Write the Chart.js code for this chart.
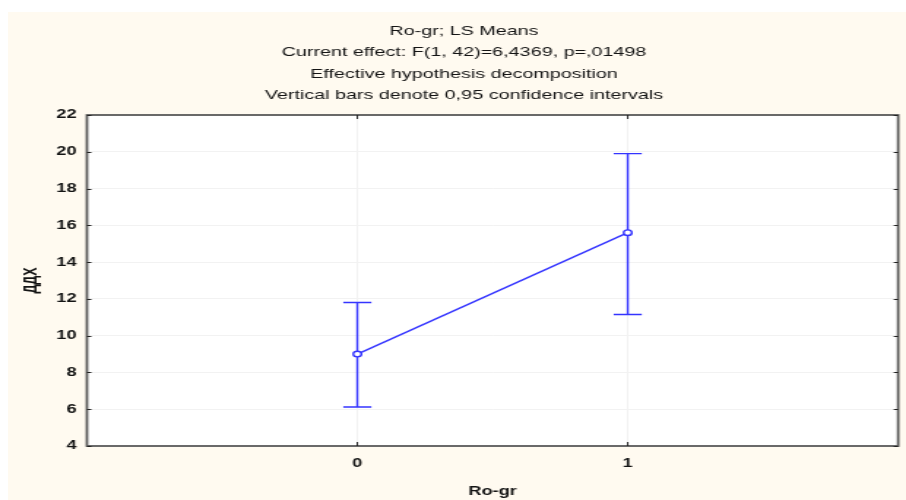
<!DOCTYPE html>
<html lang="ru">
<head>
    <meta charset="UTF-8">
    <title>Ro-gr; LS Means</title>
    <style>
        body {
            margin: 0;
            background: #ffffff;
            width: 906px;
            height: 500px;
            overflow: hidden;
            position: relative;
        }

        .panel {
            position: absolute;
            left: 8px;
            top: 12px;
            right: 0;
            bottom: 0;
            background: #fffaf0;
        }

        /* the chart is drawn narrow and stretched sideways to the page width */
        .chartBox {
            position: absolute;
            left: 0;
            top: 0;
            width: 620px;
            height: 500px;
            transform: scaleX(1.4613);
            transform-origin: 0 0;
        }
    </style>
    <script src="https://cdn.jsdelivr.net/npm/chart.js"></script>
</head>
<body>
    <div class="panel"></div>
    <div class="chartBox">
        <canvas id="meansChart" width="620" height="500"></canvas>
    </div>
    <script>
        // LS means of ДДХ by group, with 0.95 confidence limits
        const groups = [0, 1];
        const means = [9.0, 15.6];
        const ciLow = [6.12, 11.15];
        const ciHigh = [11.8, 19.9];
        const yTicks = [4, 6, 8, 10, 12, 14, 16, 18, 20, 22];

        const titleLines = [
            'Ro-gr; LS Means',
            'Current effect: F(1, 42)=6,4369, p=,01498',
            'Effective hypothesis decomposition',
            'Vertical bars denote 0,95 confidence intervals'
        ];

        const lineColor = 'rgb(52, 52, 255)';
        const textColor = '#141414';
        const fontFamily = 'Arial, "Liberation Sans", sans-serif';
        const axisFont = { family: fontFamily, size: 12.5, weight: 'bold' };

        // white plot area, then the frame with inward tick marks on all sides
        const plotFrame = {
            id: 'plotFrame',
            beforeDraw(chart) {
                const { ctx, chartArea: a } = chart;
                ctx.save();
                ctx.fillStyle = '#ffffff';
                ctx.fillRect(a.left, a.top, a.right - a.left, a.bottom - a.top);
                ctx.restore();
            },
            afterDraw(chart) {
                const { ctx, chartArea: a, scales } = chart;
                const lenY = 3;
                const lenX = 4;
                ctx.save();
                ctx.strokeStyle = '#5a5a5a';
                ctx.lineWidth = 1.8;
                ctx.strokeRect(a.left, a.top, a.right - a.left, a.bottom - a.top);

                ctx.strokeStyle = '#222222';
                ctx.lineWidth = 1;
                ctx.beginPath();
                scales.y.ticks.forEach(t => {
                    const y = Math.round(scales.y.getPixelForValue(t.value)) + 0.5;
                    ctx.moveTo(a.left, y);
                    ctx.lineTo(a.left + lenY, y);
                    ctx.moveTo(a.right, y);
                    ctx.lineTo(a.right - lenY, y);
                });
                scales.x.ticks.forEach(t => {
                    const x = scales.x.getPixelForValue(t.value);
                    ctx.moveTo(x, a.bottom);
                    ctx.lineTo(x, a.bottom - lenX);
                    ctx.moveTo(x, a.top);
                    ctx.lineTo(x, a.top + lenX);
                });
                ctx.stroke();
                ctx.restore();
            }
        };

        // vertical confidence bars with caps
        const errorBars = {
            id: 'errorBars',
            beforeDatasetsDraw(chart) {
                const { ctx, scales } = chart;
                const cap = 9.6;
                ctx.save();
                ctx.strokeStyle = lineColor;
                ctx.lineWidth = 1.4;
                ctx.beginPath();
                groups.forEach((g, i) => {
                    const x = scales.x.getPixelForValue(g);
                    const yTop = scales.y.getPixelForValue(ciHigh[i]);
                    const yBot = scales.y.getPixelForValue(ciLow[i]);
                    ctx.moveTo(x, yTop);
                    ctx.lineTo(x, yBot);
                    ctx.moveTo(x - cap, yTop);
                    ctx.lineTo(x + cap, yTop);
                    ctx.moveTo(x - cap, yBot);
                    ctx.lineTo(x + cap, yBot);
                });
                ctx.stroke();
                ctx.restore();
            }
        };

        const ctx = document.getElementById('meansChart').getContext('2d');

        new Chart(ctx, {
            type: 'line',
            data: {
                datasets: [{
                    data: groups.map((g, i) => ({ x: g, y: means[i] })),
                    borderColor: lineColor,
                    borderWidth: 1.4,
                    pointRadius: 2.8,
                    pointBorderWidth: 1.4,
                    pointBackgroundColor: '#ffffff',
                    pointBorderColor: lineColor,
                    fill: false,
                    tension: 0
                }]
            },
            options: {
                responsive: false,
                animation: false,
                devicePixelRatio: 1,
                layout: {
                    padding: { left: 20, right: 5, top: 0, bottom: 0 }
                },
                scales: {
                    x: {
                        type: 'linear',
                        min: -1,
                        max: 2,
                        afterBuildTicks: scale => {
                            scale.ticks = groups.map(v => ({ value: v }));
                        },
                        afterFit: scale => {
                            scale.height = 54;
                        },
                        grid: {
                            color: '#f2f2f2',
                            drawTicks: false
                        },
                        border: { display: false },
                        ticks: {
                            padding: 10,
                            color: textColor,
                            font: axisFont
                        },
                        title: {
                            display: true,
                            text: 'Ro-gr',
                            color: textColor,
                            padding: { top: 0, bottom: 1 },
                            font: axisFont
                        }
                    },
                    y: {
                        min: 4,
                        max: 22,
                        afterBuildTicks: scale => {
                            scale.ticks = yTicks.map(v => ({ value: v }));
                        },
                        afterFit: scale => {
                            scale.width = 39.5;
                        },
                        grid: {
                            color: '#f2f2f2',
                            drawTicks: false
                        },
                        border: { display: false },
                        ticks: {
                            padding: 7,
                            color: textColor,
                            font: axisFont
                        },
                        title: {
                            display: true,
                            text: 'ДДХ',
                            color: textColor,
                            padding: { top: -5.5, bottom: 0 },
                            font: axisFont
                        }
                    }
                },
                plugins: {
                    legend: { display: false },
                    tooltip: { enabled: false },
                    title: {
                        display: true,
                        text: titleLines,
                        color: textColor,
                        padding: { top: 20, bottom: 8.6 },
                        font: {
                            family: fontFamily,
                            size: 13.5,
                            weight: 'normal',
                            lineHeight: 1.6
                        }
                    }
                }
            },
            plugins: [plotFrame, errorBars]
        });
    </script>
</body>
</html>
